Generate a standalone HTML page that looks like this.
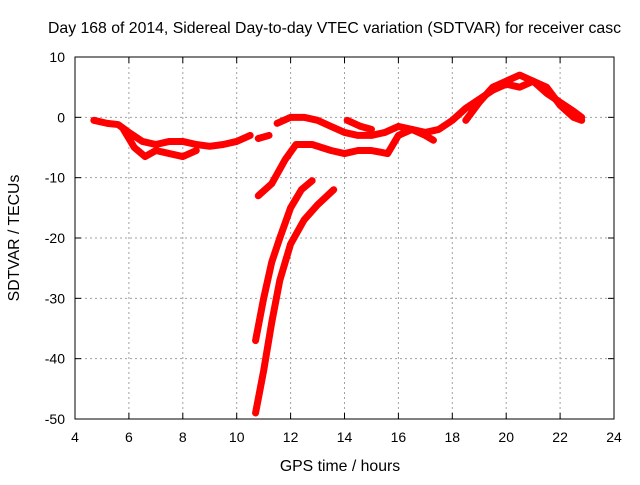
<!DOCTYPE html>
<html><head><meta charset="utf-8"><style>
body{margin:0;background:#fff;width:640px;height:480px;overflow:hidden;font-family:"Liberation Sans",sans-serif}
svg text{font-family:"Liberation Sans",sans-serif;font-size:14px;fill:#000}
svg text.big{font-size:15.8px}
</style></head><body>
<svg id="chart" width="640" height="480" xmlns="http://www.w3.org/2000/svg">
<text class="big" x="48" y="33">Day 168 of 2014, Sidereal Day-to-day VTEC variation (SDTVAR) for receiver casc</text>
<g id="grid"></g><g id="series"></g><g id="axes"></g>
<text class="big" x="340" y="471" text-anchor="middle">GPS time / hours</text>
<text class="big" transform="translate(19,238) rotate(-90)" text-anchor="middle">SDTVAR / TECUs</text>
</svg>
<script>
const xTicks=[4,6,8,10,12,14,16,18,20,22,24];
const yTicks=[10,0,-10,-20,-30,-40,-50];
const segA=[[4.7,-0.5],[5.2,-1],[5.6,-1.2],[6,-2.5],[6.5,-4],[7,-4.5],[7.5,-4],[8,-4],[8.5,-4.5],[9,-4.8],[9.5,-4.5],[10,-4],[10.5,-3]];
const segB=[[5.8,-2],[6.2,-5],[6.6,-6.5],[7,-5.5],[7.5,-6],[8,-6.5],[8.5,-5.5]];
const segC=[[10.8,-3.5],[11.2,-3]];
const segD=[[11.5,-1],[12,0],[12.5,0],[13,-0.5],[13.5,-1.5],[14,-2.5],[14.5,-3],[15,-3],[15.5,-2.5],[16,-1.5],[16.5,-2],[17,-3],[17.3,-3.8]];
const segE=[[10.8,-13],[11.3,-11],[11.8,-7],[12.2,-4.5],[12.8,-4.5],[13.5,-5.5],[14,-6],[14.5,-5.5],[15,-5.5],[15.6,-6],[16,-3],[16.5,-2],[17,-2.5],[17.5,-2],[18,-0.5],[18.5,1.5],[19,3],[19.5,4.5],[20,5.5],[20.5,5],[21,6],[21.5,4],[22,2.5],[22.5,1],[22.8,0]];
const segF=[[10.7,-37],[11,-30],[11.3,-24],[11.6,-20],[12,-15],[12.4,-12],[12.8,-10.5]];
const segG=[[10.7,-49],[11,-42],[11.3,-34],[11.6,-27],[12,-21],[12.5,-17],[13,-14.5],[13.6,-12]];
const segH=[[14.1,-0.5],[14.6,-1.5],[15,-2]];
const segI=[[18.5,-0.5],[19,2.5],[19.5,5],[20,6],[20.5,7],[21,6],[21.5,5],[22,2],[22.5,0],[22.8,-0.5]];
const series=[segA,segB,segC,segD,segE,segF,segG,segH,segI];
const X0=75,X1=614,Y0=57,Y1=419;
const sx=v=>X0+(v-4)/20*(X1-X0), sy=v=>Y0+(10-v)/60*(Y1-Y0);
const NS="http://www.w3.org/2000/svg";
function mk(t,a,p){const e=document.createElementNS(NS,t);for(const k in a)e.setAttribute(k,a[k]);p.appendChild(e);return e;}
const grid=document.getElementById('grid'),axes=document.getElementById('axes'),sg=document.getElementById('series');
xTicks.forEach(t=>{const x=sx(t);
 if(t>4&&t<24){const l=mk('line',{x1:x,x2:x,y1:Y0,y2:Y1,stroke:'#a0a0a0','stroke-dasharray':'2,3'},grid);
 }
 mk('line',{x1:x,x2:x,y1:Y1,y2:Y1-6,stroke:'#000'},axes);mk('line',{x1:x,x2:x,y1:Y0,y2:Y0+6,stroke:'#000'},axes);
 const tx=mk('text',{x:x,y:Y1+23,'text-anchor':'middle'},axes);tx.textContent=t;
 });
yTicks.forEach(t=>{const y=sy(t);
 if(t<10&&t>-50){const l=mk('line',{x1:X0,x2:X1,y1:y,y2:y,stroke:'#a0a0a0','stroke-dasharray':'2,3'},grid);
 }
 mk('line',{x1:X0,x2:X0+6,y1:y,y2:y,stroke:'#000'},axes);mk('line',{x1:X1,x2:X1-6,y1:y,y2:y,stroke:'#000'},axes);
 const tx=mk('text',{x:X0-10,y:y+5,'text-anchor':'end'},axes);tx.textContent=t;
 });
const fr=mk('rect',{x:X0,y:Y0,width:X1-X0,height:Y1-Y0,fill:'none',stroke:'#000'},axes);

series.forEach(s=>{
 const pl=mk('polyline',{points:s.map(p=>sx(p[0])+','+sy(p[1])).join(' '),fill:'none',stroke:'#ff0000','stroke-width':7,'stroke-linejoin':'round','stroke-linecap':'round'},sg);
 
});
</script>
</body></html>
